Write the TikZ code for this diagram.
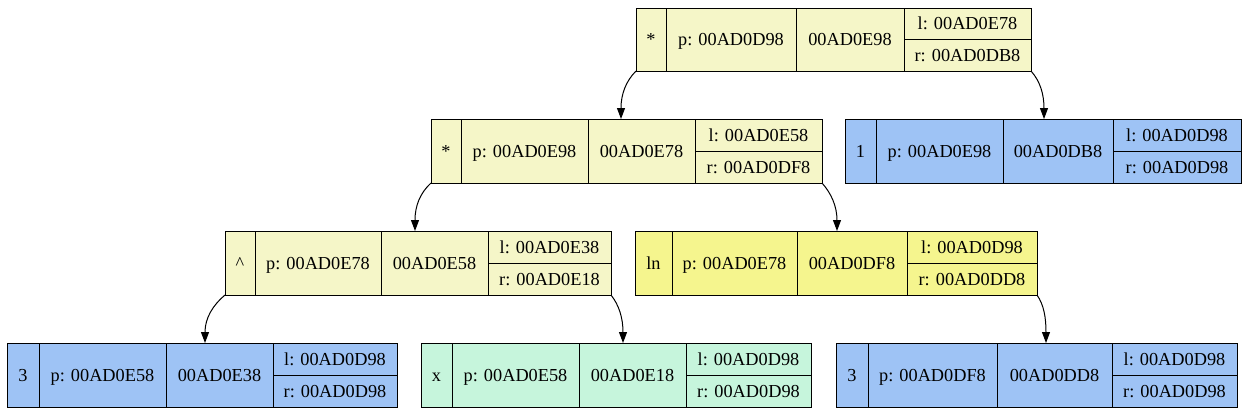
\documentclass[tikz,border=0pt]{standalone}
\usepackage{fontspec}
\setmainfont{Liberation Serif}
\usetikzlibrary{arrows.meta}
\definecolor{ylw}{HTML}{F5F6C8}
\definecolor{ylwb}{HTML}{F5F58E}
\definecolor{blu}{HTML}{9EC3F5}
\definecolor{grn}{HTML}{C6F5DC}
\tikzset{
  recbox/.style={draw, line width=1pt, inner sep=0pt, outer sep=0pt, anchor=north west},
  lbl/.style={font=\fontsize{18.3}{20}\selectfont, inner sep=0pt, text height=12pt, text depth=0pt},
  link/.style={line width=1pt, -{Triangle[length=11pt,width=8pt]}},
  divider/.style={line width=1pt},
}
\newcommand\rec[9]{%
  \node[recbox, fill=#2, minimum width={#7pt-#3pt}, minimum height={#9pt-#8pt}] (#1) at (#3,#8) {};
  \draw[divider] (#4,#8) -- (#4,#9) (#5,#8) -- (#5,#9) (#6,#8) -- (#6,#9)
    (#6,{(#8+#9)/2}) -- (#7,{(#8+#9)/2});
  \coordinate (#1-a) at ({(#3+#4)/2},{(#8+#9)/2});
  \coordinate (#1-b) at ({(#4+#5)/2},{(#8+#9)/2});
  \coordinate (#1-c) at ({(#5+#6)/2},{(#8+#9)/2});
  \coordinate (#1-d) at ({(#6+#7)/2},{(3*#8+#9)/4});
  \coordinate (#1-e) at ({(#6+#7)/2},{(#8+3*#9)/4});
}
\newcommand\rtext[6]{%
  \node[lbl] (#1-ta) at (#1-a) {#2};
  \node[lbl] (#1-tb) at (#1-b) {#3};
  \node[lbl] (#1-tc) at (#1-c) {#4};
  \node[lbl] (#1-td) at (#1-d) {#5};
  \node[lbl] (#1-te) at (#1-e) {#6};
}
\begin{document}
\begin{tikzpicture}[x=1pt, y=-1pt]
\useasboundingbox (0,0) rectangle (1245,413);
\rec{A}{ylw}{636}{666}{796}{904}{1031}{8}{71}
\rtext{A}{*}{p: 00AD0D98}{00AD0E98}{l: 00AD0E78}{r: 00AD0DB8}
\rec{B}{ylw}{431}{461}{588}{695}{822}{119}{183}
\rtext{B}{*}{p: 00AD0E98}{00AD0E78}{l: 00AD0E58}{r: 00AD0DF8}
\rec{C}{blu}{845}{876}{1003}{1113}{1241}{119}{183}
\rtext{C}{1}{p: 00AD0E98}{00AD0DB8}{l: 00AD0D98}{r: 00AD0D98}
\rec{D}{ylw}{225}{255}{381}{488}{611}{231}{295}
\rtext{D}{\textasciicircum}{p: 00AD0E78}{00AD0E58}{l: 00AD0E38}{r: 00AD0E18}
\rec{E}{ylwb}{635}{672}{797}{907}{1037}{231}{295}
\rtext{E}{ln}{p: 00AD0E78}{00AD0DF8}{l: 00AD0D98}{r: 00AD0DD8}
\rec{F}{blu}{7}{39}{166}{273}{397}{343}{407}
\rtext{F}{3}{p: 00AD0E58}{00AD0E38}{l: 00AD0D98}{r: 00AD0D98}
\rec{G}{grn}{421}{452}{579}{686}{811}{343}{407}
\rtext{G}{x}{p: 00AD0E58}{00AD0E18}{l: 00AD0D98}{r: 00AD0D98}
\rec{H}{blu}{836}{868}{997}{1112}{1237}{343}{407}
\rtext{H}{3}{p: 00AD0DF8}{00AD0DD8}{l: 00AD0D98}{r: 00AD0D98}

\draw[link] (A.south west) .. controls +(-10,10) and +(0,-25) .. ([xshift=190pt]B.north west);
\draw[link] (A.south east) .. controls +(9,10) and +(0,-25) .. ([xshift=199pt]C.north west);
\draw[link] (B.south west) .. controls +(-11,10) and +(0,-25) .. ([xshift=190pt]D.north west);
\draw[link] (B.south east) .. controls +(9,10) and +(0,-25) .. ([xshift=202pt]E.north west);
\draw[link] (D.south west) .. controls +(-12,10) and +(0,-25) .. ([xshift=198pt]F.north west);
\draw[link] (D.south east) .. controls +(8,10) and +(0,-25) .. ([xshift=202pt]G.north west);
\draw[link] (E.south east) .. controls +(7,10) and +(0,-25) .. ([xshift=210pt]H.north west);
\end{tikzpicture}
\end{document}
